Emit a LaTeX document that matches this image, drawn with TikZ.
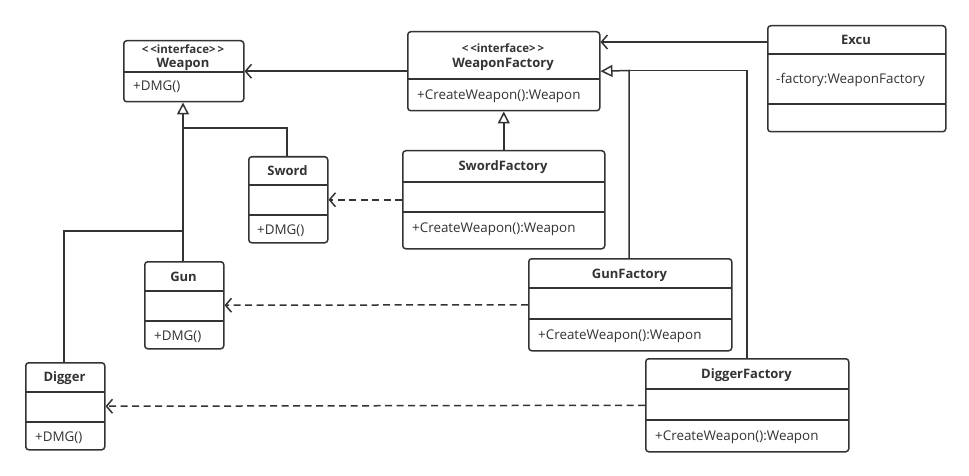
\documentclass[tikz,border=0pt]{standalone}
\usepackage{fontspec}
\setmainfont{Open Sans}
\usetikzlibrary{arrows.meta}
\definecolor{ln}{HTML}{333333}
\definecolor{tx}{HTML}{333333}
\begin{document}
\begin{tikzpicture}[x=1pt,y=-1pt,
  cls/.style={draw=ln,line width=1.5pt,rounded corners=3pt,anchor=north west,inner sep=0pt,fill=white},
  div/.style={draw=ln,line width=1.5pt},
  ttl/.style={font=\fontsize{13}{15}\selectfont\bfseries,text=tx,inner sep=0pt},
  ster/.style={font=\fontsize{11.5}{13}\selectfont\bfseries,text=tx,inner sep=0pt},
  mem/.style={font=\fontsize{13.4}{15}\selectfont,text=tx,inner sep=0pt,anchor=west},
  conn/.style={draw=ln,line width=1.5pt},
  assoc/.style={conn,-{Straight Barb[length=6pt,width=14pt,line width=1.5pt]}},
  dep/.style={conn,dashed,dash pattern=on 7pt off 4.5pt,-{Straight Barb[length=6pt,width=14pt,line width=1.5pt]}},
  inh/.style={conn,-{Triangle[open,length=12pt,width=12pt,line width=1.5pt,fill=white]}}
]
\useasboundingbox (0,0) rectangle (969,476);
% Weapon
\node[cls,minimum width=120pt,minimum height=61pt] (weapon) at (123,40) {};
\draw[div] (123,72) -- (243,72);
\node[ster] (weaponS) at (183,49) {<\kern2pt<interface>\kern2pt>};
\node[ttl] (weaponT) at (183,64) {Weapon};
\node[mem] (weaponM) at (133,87) {+DMG()};
% WeaponFactory
\node[cls,minimum width=192pt,minimum height=79pt] (wf) at (407,31) {};
\draw[div] (407,79) -- (599,79);
\node[ster] (wfS) at (503,48) {<\kern2pt<interface>\kern2pt>};
\node[ttl] (wfT) at (503,64) {WeaponFactory};
\node[mem] (wfM) at (417,96) {+CreateWeapon():Weapon};
% Excu
\node[cls,minimum width=178pt,minimum height=106pt] (excu) at (767,25) {};
\draw[div] (767,54) -- (945,54);
\draw[div] (767,104) -- (945,104);
\node[ttl] (excuT) at (856,40) {Excu};
\node[mem] (excuM) at (776,80) {-factory:WeaponFactory};
% Sword
\node[cls,minimum width=79pt,minimum height=86pt] (sword) at (248,156) {};
\draw[div] (248,185) -- (327,185);
\draw[div] (248,215) -- (327,215);
\node[ttl] (swordT) at (287.5,171) {Sword};
\node[mem] (swordM) at (257,231) {+DMG()};
% SwordFactory
\node[cls,minimum width=202pt,minimum height=98pt] (swf) at (402,150) {};
\draw[div] (402,182) -- (604,182);
\draw[div] (402,212) -- (604,212);
\node[ttl] (swfT) at (503,167) {SwordFactory};
\node[mem] (swfM) at (412,229) {+CreateWeapon():Weapon};
% Gun
\node[cls,minimum width=79pt,minimum height=87pt] (gun) at (144,261) {};
\draw[div] (144,291) -- (223,291);
\draw[div] (144,321) -- (223,321);
\node[ttl] (gunT) at (183.5,277) {Gun};
\node[mem] (gunM) at (154,337) {+DMG()};
% GunFactory
\node[cls,minimum width=203pt,minimum height=92pt] (gf) at (528,258) {};
\draw[div] (528,288) -- (731,288);
\draw[div] (528,319) -- (731,319);
\node[ttl] (gfT) at (629.5,275) {GunFactory};
\node[mem] (gfM) at (538,336) {+CreateWeapon():Weapon};
% Digger
\node[cls,minimum width=79pt,minimum height=87pt] (dig) at (25,362) {};
\draw[div] (25,392) -- (104,392);
\draw[div] (25,422) -- (104,422);
\node[ttl] (digT) at (64.5,378) {Digger};
\node[mem] (digM) at (35,438) {+DMG()};
% DiggerFactory
\node[cls,minimum width=203pt,minimum height=93pt] (df) at (645,358) {};
\draw[div] (645,389) -- (848,389);
\draw[div] (645,420) -- (848,420);
\node[ttl] (dfT) at (746.5,375) {DiggerFactory};
\node[mem] (dfM) at (655,437) {+CreateWeapon():Weapon};
% coordinates
\coordinate (swBend) at (287,128);
\coordinate (swJoin) at (183,128);
\coordinate (dgBend) at (64,231);
\coordinate (dgJoin) at (183,231);
\coordinate (gfBend) at (629,70.5);
\coordinate (dfBend) at (747,70.5);
% connectors
\draw[assoc] (wf.west) -- (weapon.east);
\draw[assoc] (excu.west |- 0,42) -- (wf.east |- 0,42);
\draw[inh] (swf.north) -- (wf.south);
\draw[conn] (df.north -| dfBend) -- (dfBend) -- (gfBend);
\draw[inh] (gf.north -| gfBend) -- (gfBend) -- (wf.east);
\draw[conn] (sword.north -| swBend) -- (swBend) -- (swJoin);
\draw[conn] (dig.north -| dgBend) -- (dgBend) -- (dgJoin);
\draw[inh] (gun.north -| swJoin) -- (weapon.south -| swJoin);
\draw[dep] (swf.west) -- (sword.east);
\draw[dep] (gf.west) -- (gun.east);
\draw[dep] (df.west) -- (dig.east);
\end{tikzpicture}
\end{document}
